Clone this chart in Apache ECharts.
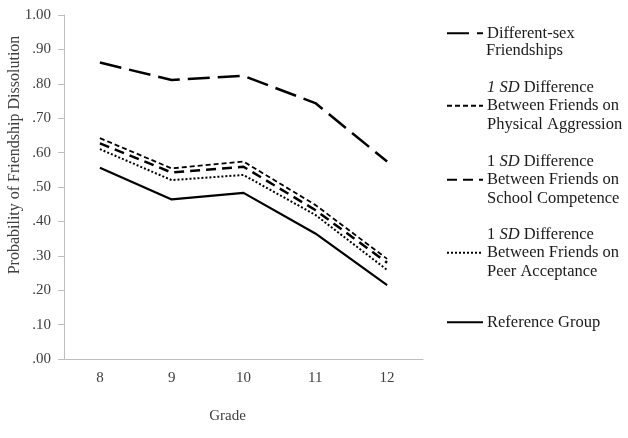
<!DOCTYPE html>
<html><head><meta charset="utf-8">
<script src="https://cdn.jsdelivr.net/npm/echarts@6/dist/echarts.min.js"></script>
<style>html,body{margin:0;padding:0;background:#fff}#c{width:628px;height:438px}</style>
</head><body><div id="c"></div>
<script>
var grades = ['8', '9', '10', '11', '12'];
var differentSex = [0.862, 0.811, 0.823, 0.744, 0.574];
var physicalAggression = [0.642, 0.554, 0.574, 0.448, 0.291];
var schoolCompetence = [0.627, 0.542, 0.559, 0.433, 0.280];
var peerAcceptance = [0.610, 0.520, 0.535, 0.419, 0.259];
var referenceGroup = [0.556, 0.464, 0.483, 0.365, 0.215];

var FONT = '"Liberation Serif", "Times New Roman", serif';
var LFS = 16.5;
var chart = echarts.init(document.getElementById('c'));

function mkLegend(name, top, fmt) {
  return {
    data: [name], left: 446, top: top, orient: 'vertical', padding: 0,
    itemWidth: 36, itemHeight: 14, itemGap: 0, selectedMode: false,
    itemStyle: { opacity: 0 },
    formatter: function () { return fmt; },
    textStyle: {
      fontFamily: FONT, fontSize: LFS, color: '#1a1a1a', lineHeight: 18.5, padding: [0, 0, 0, -1],
      rich: {
        n: { fontFamily: FONT, fontSize: LFS, color: '#1a1a1a', lineHeight: 18.5 },
        i: { fontFamily: FONT, fontSize: LFS, color: '#1a1a1a', lineHeight: 18.5, fontStyle: 'italic' }
      }
    }
  };
}

function line(name, data, width, dash) {
  return {
    name: name, type: 'line', data: data, symbol: 'none', silent: true,
    lineStyle: { color: '#000', width: width, type: dash },
    itemStyle: { color: '#000' }
  };
}

var nDS = 'Different-sex Friendships';
var nPA = '1 SD Difference Between Friends on Physical Aggression';
var nSC = '1 SD Difference Between Friends on School Competence';
var nPE = '1 SD Difference Between Friends on Peer Acceptance';
var nRG = 'Reference Group';

chart.setOption({
  animation: false,
  grid: { left: 64, right: 205, top: 15, bottom: 79, outerBoundsMode: 'none', containLabel: false },
  legend: [
    mkLegend(nDS, 24, '{n|Different-sex}'),
    mkLegend(nPA, 78, '{i|1 SD}{n| Difference}\n{n|Between Friends on}\n{n|Physical Aggression}'),
    mkLegend(nSC, 152, '{n|1 }{i|SD}{n| Difference}\n{n|Between Friends on}\n{n|School Competence}'),
    mkLegend(nPE, 225, '{n|1 }{i|SD}{n| Difference}\n{n|Between Friends on}\n{n|Peer Acceptance}'),
    mkLegend(nRG, 313, '{n|Reference Group}')
  ],
  graphic: [{
    type: 'text', left: 486, top: 42,
    style: { text: 'Friendships', font: LFS + 'px ' + FONT, fill: '#1a1a1a' }
  }],
  xAxis: {
    type: 'category', data: grades, boundaryGap: true,
    axisLine: { lineStyle: { color: '#bfbfbf', width: 1 } },
    axisTick: { show: false },
    axisLabel: { fontFamily: FONT, fontSize: 15, color: '#404040', margin: 12 },
    name: 'Grade', nameLocation: 'middle', nameGap: 50, nameMoveOverlap: false,
    nameTextStyle: { fontFamily: FONT, fontSize: 15, color: '#404040', padding: [0, 32, 0, 0] }
  },
  yAxis: {
    type: 'value', min: 0, max: 1, interval: 0.1,
    axisLine: { show: true, lineStyle: { color: '#bfbfbf', width: 1 } },
    axisTick: { show: true, length: 6, lineStyle: { color: '#bfbfbf' } },
    splitLine: { show: false },
    axisLabel: {
      fontFamily: FONT, fontSize: 15, color: '#404040', margin: 13,
      formatter: function (v) { return v.toFixed(2).replace(/^0/, ''); }
    },
    name: 'Probability of Friendship Dissolution', nameLocation: 'middle', nameGap: 41, nameMoveOverlap: false,
    nameTextStyle: { fontFamily: FONT, fontSize: 16, color: '#404040', padding: [0, 0, 0, 64] }
  },
  series: [
    line(nDS, differentSex, 2.5, [22, 8]),
    line(nPA, physicalAggression, 1.8, [5, 3]),
    line(nSC, schoolCompetence, 2.5, [10, 6]),
    line(nPE, peerAcceptance, 2, [2, 2]),
    line(nRG, referenceGroup, 2.2, 'solid')
  ]
});
</script></body></html>
